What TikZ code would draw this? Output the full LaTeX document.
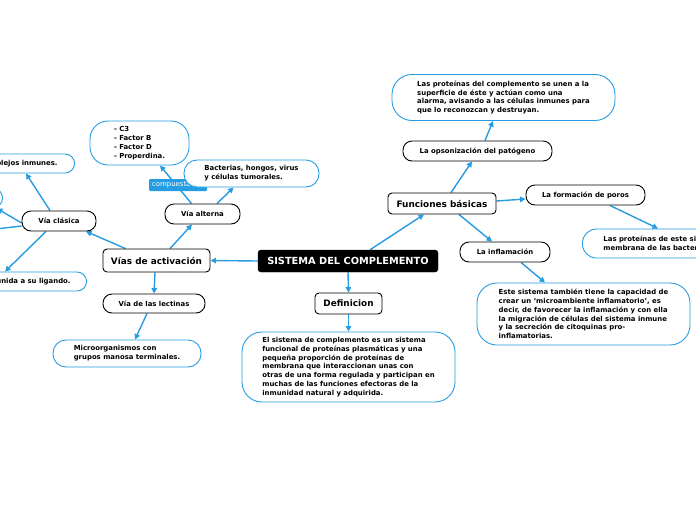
\documentclass[tikz,border=0pt]{standalone}
\usepackage{fontspec}
\setmainfont{DejaVu Sans}
\usetikzlibrary{arrows.meta,backgrounds,calc}
\definecolor{mblue}{RGB}{38,157,226}
\tikzset{
  title/.style={draw=black, fill=black, text=white, rounded corners=3pt, inner sep=0pt, font=\fontsize{9.8}{11}\selectfont\bfseries},
  mainbox/.style={draw=black, line width=0.9pt, fill=white, rounded corners=4pt, inner sep=0pt, font=\fontsize{8.9}{11}\selectfont\bfseries},
  pill/.style={draw=black, line width=0.9pt, fill=white, rounded corners=9pt, inner sep=0pt, font=\fontsize{6.9}{8.7}\selectfont\bfseries},
  bbox/.style={draw=mblue, line width=0.9pt, fill=white, inner sep=0pt, align=left, font=\fontsize{6.9}{8.8}\selectfont\bfseries},
  tag/.style={fill=mblue, text=white, rounded corners=1pt, inner xsep=3pt, inner ysep=0pt, minimum height=12pt, font=\fontsize{6.9}{8}\selectfont},
  conn/.style={draw=mblue, line width=1.4pt, -{Triangle[length=5.5pt,width=5.5pt]}}
}
\begin{document}
\begin{tikzpicture}[x=1pt,y=-1pt]
\useasboundingbox (0,0) rectangle (696,520);
% center
\node[title, minimum width=180pt, minimum height=22pt] (sis) at (348,261) {SISTEMA DEL COMPLEMENTO};
% left branch
\node[mainbox, minimum width=107pt, minimum height=23pt] (vias) at (156.5,260.5) {Vías de activación};
\node[pill, minimum width=74pt, minimum height=20pt] (clasica) at (59,221) {Vía clásica};
\node[pill, minimum width=75pt, minimum height=20pt] (alterna) at (202.5,214) {Vía alterna};
\node[pill, minimum width=102pt, minimum height=19pt] (lectinas) at (154,303.5) {Vía de las lectinas};
\node[bbox, rounded corners=13pt, minimum width=148pt, minimum height=27pt] (micro) at (127,353.5) {Microorganismos con\\grupos manosa terminales.};
\node[bbox, rounded corners=18pt, minimum width=99pt, minimum height=44pt] (c3) at (139.5,143) {- C3\\- Factor B\\- Factor D\\- Properdina.};
\node[tag, anchor=west] (comp) at (149,185) {compuesta por};
\node[bbox, rounded corners=13pt, minimum width=135pt, minimum height=27pt] (bact) at (251.5,173.5) {Bacterias, hongos, virus\\y células tumorales.};
\node[bbox, rounded corners=9.5pt, anchor=east, minimum height=19pt, inner xsep=17pt] (compl) at (75,163.5) {Complejos inmunes.};
\node[bbox, rounded corners=9.5pt, anchor=east, minimum height=19pt, inner xsep=16pt] (unida) at (87,281.5) {unida a su ligando.};
\node[bbox, rounded corners=10pt, anchor=east, minimum width=60pt, minimum height=20pt] (otro) at (3,198) {};
\coordinate (l2) at (-30,232);
% right branch
\node[mainbox, minimum width=108pt, minimum height=21pt] (func) at (442,203.5) {Funciones básicas};
\node[pill, minimum width=149pt, minimum height=20pt] (opson) at (477.5,151) {La opsonización del patógeno};
\node[bbox, rounded corners=20pt, minimum width=223pt, minimum height=46pt] (prot1) at (503.5,97.5) {Las proteínas del complemento se unen a la\\superficie de éste y actúan como una\\alarma, avisando a las células inmunes para\\que lo reconozcan y destruyan.};
\node[pill, minimum width=119pt, minimum height=20pt] (poros) at (585.5,195) {La formación de poros};
\node[bbox, rounded corners=14pt, anchor=west, minimum height=29pt, inner xsep=21pt] (prot2) at (582,243.5) {Las proteínas de este sistema\\membrana de las bacterias};
\node[pill, minimum width=90pt, minimum height=20pt] (infl) at (505,252) {La inflamación};
\node[bbox, rounded corners=20pt, minimum width=213pt, minimum height=62pt] (este) at (583.5,314) {Este sistema también tiene la capacidad de\\crear un ‘microambiente inflamatorio’, es\\decir, de favorecer la inflamación y con ella\\la migración de células del sistema inmune\\y la secreción de citoquinas pro-\\inflamatorias.};
% bottom branch
\node[mainbox, minimum width=67pt, minimum height=21pt] (defin) at (348.5,303.5) {Definicion};
\node[bbox, rounded corners=20pt, minimum width=213pt, minimum height=70pt] (elsis) at (348.5,367) {El sistema de complemento es un sistema\\funcional de proteínas plasmáticas y una\\pequeña proporción de proteínas de\\membrana que interaccionan unas con\\otras de una forma regulada y participan en\\muchas de las funciones efectoras de la\\inmunidad natural y adquirida.};
\begin{scope}[on background layer]
\fill[white] (0,0) rectangle (696,520);
\draw[conn] (sis.west) -- (vias.east);
\draw[conn] ([xshift=22pt]sis.north) -- ([xshift=-18pt]func.south);
\draw[conn] (sis.south) -- (defin.north);
\draw[conn] (defin.south) -- (elsis.north);
\draw[conn] ([xshift=-31pt]vias.north) -- ([xshift=27pt]clasica.south);
\draw[conn] ([xshift=13.5pt]vias.north) -- ([xshift=-10.5pt]alterna.south);
\draw[conn] ([xshift=-1.5pt]vias.south) -- (lectinas.north);
\draw[conn] ([xshift=-7pt]lectinas.south) -- ([xshift=8pt]micro.north);
\draw[conn] ([xshift=-9pt]clasica.north) -- ([xshift=-49pt]compl.south east);
\draw[conn] ([xshift=-13pt]clasica.south) -- ([xshift=-82pt]unida.north east);
\draw[conn] ([yshift=-2pt]clasica.west) -- ([xshift=-6pt]otro.south east);
\draw[conn] ([yshift=-5pt]clasica.west) -- (l2);
\draw[conn] ([xshift=-11pt]alterna.north) -- ([xshift=20.5pt]c3.south);
\draw[conn] ([xshift=14.5pt]alterna.north) -- ([xshift=50pt]bact.south west);
\draw[conn] ([xshift=9pt]func.north) -- ([xshift=-5.5pt]opson.south);
\draw[conn] ([xshift=7.5pt]opson.north) -- ([xshift=-10.5pt]prot1.south);
\draw[conn] ([yshift=2.5pt]func.east) -- ([yshift=-4pt]poros.west);
\draw[conn] ([xshift=24.5pt]poros.south) -- ([xshift=76pt]prot2.north west);
\draw[conn] ([xshift=17pt]func.south) -- ([xshift=-13pt]infl.north);
\draw[conn] ([xshift=16pt]infl.south) -- ([xshift=-38.5pt]este.north);
\end{scope}
\end{tikzpicture}
\end{document}
